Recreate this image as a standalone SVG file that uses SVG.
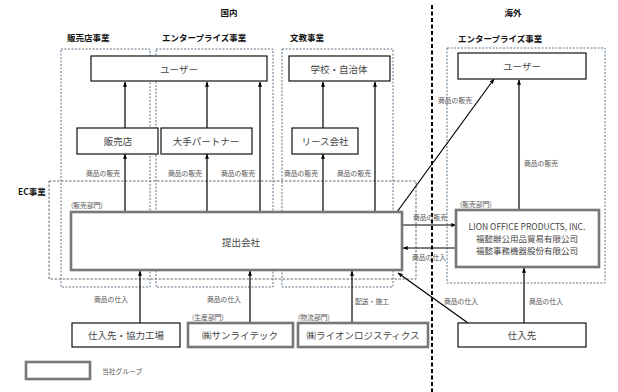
<svg xmlns="http://www.w3.org/2000/svg" width="618" height="392" viewBox="0 0 618 392">
<defs>
<marker id="ah" viewBox="0 0 8 8" refX="7.5" refY="4" markerWidth="5" markerHeight="5" orient="auto" markerUnits="userSpaceOnUse">
<path d="M0,0.8 L8,4 L0,7.2 Z" fill="#000"/>
</marker>
<style>
text{font-family:"Noto Sans CJK JP","Liberation Sans",sans-serif;}
.area{fill:none;stroke:#5d7688;stroke-width:1;stroke-dasharray:2,1.5;}
.ec{fill:none;stroke:#6a6a6a;stroke-width:1;stroke-dasharray:2.5,1.5;}
.divider{stroke:#000;stroke-width:2;stroke-dasharray:4,2.5;}
.hdr{font-size:8.5px;font-weight:bold;fill:#111;}
.node{fill:#fff;stroke:#111;stroke-width:1.2;}
.grp{fill:#fff;stroke:#777;stroke-width:2.6;}
.nt{font-size:9.5px;fill:#444;text-anchor:middle;dominant-baseline:central;}
.lt{font-size:8.5px;fill:#444;text-anchor:middle;dominant-baseline:central;}
.lb{font-size:6.8px;fill:#555;dominant-baseline:central;}
.cn{stroke:#000;stroke-width:1.2;fill:none;marker-end:url(#ah);}
</style>
</defs>
<rect width="618" height="392" fill="#fff"/>

<g id="areas">
<rect class="area" x="61" y="49" width="89" height="238"/>
<rect class="area" x="156" y="49" width="117" height="238"/>
<rect class="area" x="282" y="49" width="111" height="238"/>
<rect class="area" x="447" y="48" width="158" height="235"/>
<rect class="ec" x="49" y="181" width="367" height="98"/>
<line class="divider" x1="432" y1="5" x2="432" y2="392"/>
</g>

<g id="headers">
<text class="hdr" x="229" y="16" text-anchor="middle" font-size="9.5">国内</text>
<text class="hdr" x="513" y="16" text-anchor="middle" font-size="9.5">海外</text>
<text class="hdr" x="67" y="37" dominant-baseline="central">販売店事業</text>
<text class="hdr" x="162" y="37" dominant-baseline="central">エンタープライズ事業</text>
<text class="hdr" x="290" y="37" dominant-baseline="central">文教事業</text>
<text class="hdr" x="458" y="38" dominant-baseline="central">エンタープライズ事業</text>
<text class="hdr" x="18" y="191" dominant-baseline="central">EC事業</text>
</g>

<g id="connectors">
<line class="cn" x1="125" y1="128" x2="125" y2="82"/>
<line class="cn" x1="207" y1="128" x2="207" y2="82"/>
<line class="cn" x1="260" y1="212" x2="260" y2="82"/>
<line class="cn" x1="125" y1="212" x2="125" y2="154"/>
<line class="cn" x1="207" y1="212" x2="207" y2="154"/>
<line class="cn" x1="323" y1="128" x2="323" y2="82"/>
<line class="cn" x1="323" y1="212" x2="323" y2="154"/>
<line class="cn" x1="375" y1="212" x2="375" y2="82"/>
<line class="cn" x1="397" y1="212" x2="494" y2="79"/>
<line class="cn" x1="403" y1="225" x2="456" y2="225"/>
<line class="cn" x1="456" y1="248" x2="403" y2="248"/>
<line class="cn" x1="519" y1="210" x2="519" y2="80"/>
<line class="cn" x1="524" y1="323" x2="524" y2="268"/>
<line class="cn" x1="140" y1="323" x2="140" y2="271"/>
<line class="cn" x1="250" y1="323" x2="250" y2="271"/>
<line class="cn" x1="352" y1="323" x2="352" y2="271"/>
<line class="cn" x1="468" y1="323" x2="398" y2="273"/>
</g>

<g id="labels">
<text class="lb" x="86" y="173">商品の販売</text>
<text class="lb" x="168" y="173">商品の販売</text>
<text class="lb" x="221" y="173">商品の販売</text>
<text class="lb" x="284" y="173">商品の販売</text>
<text class="lb" x="337" y="173">商品の販売</text>
<text class="lb" x="524" y="163">商品の販売</text>
<text class="lb" x="438" y="100">商品の販売</text>
<text class="lb" x="71" y="205">(販売部門)</text>
<text class="lb" x="460" y="204">(販売部門)</text>
<text class="lb" x="413" y="217">商品の販売</text>
<text class="lb" x="412" y="257">商品の仕入</text>
<text class="lb" x="94" y="299">商品の仕入</text>
<text class="lb" x="207" y="299">商品の仕入</text>
<text class="lb" x="192" y="317">(生産部門)</text>
<text class="lb" x="298" y="317">(物流部門)</text>
<text class="lb" x="355" y="301">配送・施工</text>
<text class="lb" x="444" y="301">商品の仕入</text>
<text class="lb" x="529" y="301">商品の仕入</text>
</g>

<g id="user-domestic">
<rect class="node" x="91" y="56" width="176" height="25"/>
<text class="nt" x="179" y="69">ユーザー</text>
</g>
<g id="school">
<rect class="node" x="289" y="56" width="101" height="25"/>
<text class="nt" x="339" y="69">学校・自治体</text>
</g>
<g id="user-overseas">
<rect class="node" x="458" y="53" width="128" height="26"/>
<text class="nt" x="522" y="66">ユーザー</text>
</g>
<g id="dealer">
<rect class="node" x="77" y="128" width="81" height="26"/>
<text class="nt" x="118" y="141">販売店</text>
</g>
<g id="partner">
<rect class="node" x="161" y="128" width="91" height="26"/>
<text class="nt" x="206" y="141">大手パートナー</text>
</g>
<g id="lease">
<rect class="node" x="292" y="128" width="66" height="26"/>
<text class="nt" x="325" y="141">リース会社</text>
</g>
<g id="company">
<rect class="grp" x="71" y="212" width="331" height="58"/>
<text class="nt" x="241" y="242">提出会社</text>
</g>
<g id="lion">
<rect class="grp" x="456" y="210" width="143" height="57"/>
<text class="lt" x="527" y="226" font-family="Liberation Sans, sans-serif">LION OFFICE PRODUCTS, INC.</text>
<text class="lt" x="527" y="238">福懿辦公用品貿易有限公司</text>
<text class="lt" x="527" y="250">福懿事務機器股份有限公司</text>
</g>
<g id="supplier-domestic">
<rect class="node" x="72" y="323" width="108" height="24"/>
<text class="nt" x="126" y="335">仕入先・協力工場</text>
</g>
<g id="sunlitec">
<rect class="grp" x="188" y="323" width="105" height="24"/>
<text class="nt" x="240" y="335">㈱サンライテック</text>
</g>
<g id="logistics">
<rect class="grp" x="298" y="323" width="130" height="24"/>
<text class="nt" x="363" y="335">㈱ライオンロジスティクス</text>
</g>
<g id="supplier-overseas">
<rect class="node" x="458" y="323" width="128" height="24"/>
<text class="nt" x="522" y="335">仕入先</text>
</g>
<g id="legend">
<rect class="grp" x="26" y="362" width="64" height="17"/>
<text class="lb" x="102" y="371">当社グループ</text>
</g>
</svg>
